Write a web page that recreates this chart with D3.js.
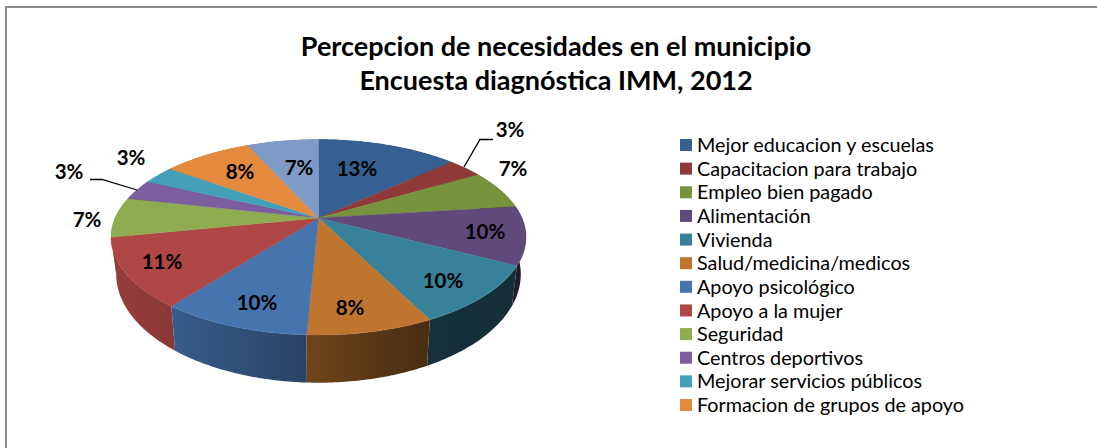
<!DOCTYPE html>
<html><head><meta charset="utf-8">
<script src="https://cdn.jsdelivr.net/npm/d3@7"></script>
<style>html,body{margin:0;padding:0;background:#fff}svg{display:block}text{font-family:Lato,sans-serif;fill:#000}</style>
</head><body><div id="chart"></div>
<script>
const categories=["Mejor educacion y escuelas","Capacitacion para trabajo","Empleo bien pagado","Alimentación","Vivienda","Salud/medicina/medicos","Apoyo psicológico","Apoyo a la mujer","Seguridad","Centros deportivos","Mejorar servicios públicos","Formacion de grupos de apoyo",""];
const values=[13.25,3.3,6.5,9.6,9.9,8.2,9.7,11.4,6.6,3.4,3.05,8.4,6.7];
const colors=["#376092","#8f3a38","#77933c","#604a7b","#37829a","#c0752f","#4674ae","#ae4746","#8fad50","#7b5e9e","#43a0b8","#e48a3e","#7e9bc8"];
const labelXY=[[357,169],[510,130],[513,169],[485,232],[443,281],[350,308],[257,303],[162,262],[87,220],[69,172],[131,158],[240,172],[299,168]];
const leaders=[[[464,167],[480,139.5],[493,139.5]],[[137,190],[102,179.5],[90,179.5]]];
const titleLines=["Percepcion de necesidades en el municipio","Encuesta diagnóstica IMM, 2012"];

const W=1097,H=448;
const svg=d3.select("#chart").append("svg").attr("width",W).attr("height",H);
const defs=svg.append("defs");
svg.append("rect").attr("x",6).attr("y",7).attr("width",1200).attr("height",600).attr("fill","#fff").attr("stroke","#8c8c8c").attr("stroke-width",2);

// pie geometry: a circle seen in perspective
const cx=318.5,cy=218,k=0.197;
const sx=d3.scaleLinear().domain([-1,1]).range([cx-203.4,cx+203.4]);
const sy=d3.scaleLinear().domain([-1,1]).range([cy-93.96,cy+93.96]);
function rimTop(a){const u=Math.sin(a),v=-Math.cos(a),w=1-k*v;return [sx(u/w),sy(v/w)];}
function rimBottom(a){const p=rimTop(a);return [cx+(p[0]-cx)*0.975,p[1]*1.11+10.85];}
const arcs=d3.pie().sort(null).value(d=>d)(values);
const line=d3.line();
const samples=(d)=>d3.range(0,41).map(i=>d.startAngle+(d.endAngle-d.startAngle)*i/40);
const shade=d3.scaleLinear().domain([118,171,305,425,515]).range([.85,.8,.58,.38,.36]).clamp(true);

const walls=svg.append("g");
const backToFront=arcs.map((d,i)=>i).sort((p,q)=>
  -Math.cos((arcs[p].startAngle+arcs[p].endAngle)/2)-(-Math.cos((arcs[q].startAngle+arcs[q].endAngle)/2)));
backToFront.forEach(i=>{
  const d=arcs[i];
  const s=samples(d),t=s.map(rimTop),b=s.map(rimBottom);
  const xs=t.concat(b).map(p=>p[0]),x0=d3.min(xs),x1=d3.max(xs);
  const g=defs.append("linearGradient").attr("id","w"+i).attr("gradientUnits","userSpaceOnUse")
    .attr("x1",x0).attr("x2",x1).attr("y1",0).attr("y2",0);
  d3.range(0,5).forEach(j=>{const x=x0+(x1-x0)*j/4;
    g.append("stop").attr("offset",j/4).attr("stop-color",d3.rgb(colors[i]).darker(-Math.log(shade(x))/Math.log(1/0.7)).formatHex());});
  walls.append("path").attr("d",line(t.concat(b.slice().reverse()))+"Z").attr("fill",`url(#w${i})`);
});
const tops=svg.append("g");
arcs.forEach((d,i)=>{
  tops.append("path").attr("d",line([[cx,cy]].concat(samples(d).map(rimTop)))+"Z").attr("fill",colors[i]).attr("stroke",colors[i]).attr("stroke-width",.4);
});

leaders.forEach(l=>svg.append("path").attr("d",line(l)).attr("fill","none").attr("stroke","#000").attr("stroke-width",1.3));
svg.append("g").selectAll("text").data(arcs).join("text")
  .attr("x",(d,i)=>labelXY[i][0]).attr("y",(d,i)=>labelXY[i][1]).attr("dy","0.36em")
  .attr("text-anchor","middle").attr("font-size",20.5).attr("font-weight",700)
  .text(d=>Math.round(d.value)+"%");

svg.append("g").selectAll("text").data(titleLines).join("text")
  .attr("x",556).attr("y",(d,i)=>56+i*34).attr("text-anchor","middle")
  .attr("font-size",27).attr("font-weight",700).text(d=>d);

const rowY=d3.scalePoint().domain(d3.range(12)).range([145,405]);
const leg=svg.append("g").selectAll("g").data(categories.slice(0,12)).join("g");
leg.append("rect").attr("x",680).attr("y",(d,i)=>rowY(i)-6).attr("width",12).attr("height",12).attr("fill",(d,i)=>colors[i]);
leg.append("text").attr("x",697).attr("y",(d,i)=>rowY(i)).attr("dy","0.36em").attr("font-size",19.8).text(d=>d);
</script></body></html>
